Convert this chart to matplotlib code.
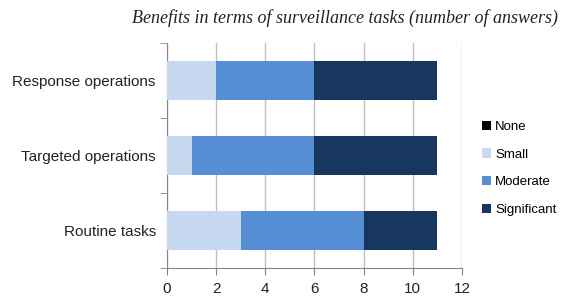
import matplotlib
matplotlib.use("Agg")
import matplotlib.pyplot as plt
import numpy as np

categories = ["Response operations", "Targeted operations", "Routine tasks"]
series_names = ["None", "Small", "Moderate", "Significant"]
none_vals = [0, 0, 0]
small_vals = [2, 1, 3]
moderate_vals = [4, 5, 5]
significant_vals = [5, 5, 3]
colors = ["#000000", "#c6d9f1", "#558ed5", "#17375e"]
xticks = [0, 2, 4, 6, 8, 10, 12]

fig = plt.figure(figsize=(5.64, 2.98), dpi=100)
ax = fig.add_axes([0.296, 0.1007, 0.523, 0.755])

y = np.arange(len(categories))[::-1]
left = np.zeros(len(categories))
for name, vals, c in zip(series_names, [none_vals, small_vals, moderate_vals, significant_vals], colors):
    vals = np.array(vals, dtype=float)
    ax.barh(y, vals, left=left, height=0.52, color=c, label=name, zorder=3)
    left += vals

ax.set_xlim(0, 12)
ax.set_ylim(-0.5, len(categories) - 0.5)
ax.set_xticks(xticks)
ax.set_xticklabels([str(t) for t in xticks])
ax.set_yticks(y)
ax.set_yticklabels(categories)
ax.tick_params(axis="y", length=0, labelsize=11, pad=8, colors="#222222")
ax.tick_params(axis="x", length=5, labelsize=11, pad=5, color="#868686", colors="#222222")
ax.set_yticks(np.arange(-0.5, len(categories), 1.0), minor=True)
ax.tick_params(axis="y", which="minor", length=5, color="#868686")
ax.grid(axis="x", color="#c0c0c0", linewidth=1, zorder=0)
for s in ["top", "right"]:
    ax.spines[s].set_visible(False)
for s in ["left", "bottom"]:
    ax.spines[s].set_color("#868686")

for lbl in ax.get_xticklabels() + ax.get_yticklabels():
    lbl.set_family("Liberation Sans")

fig.text(0.99, 0.94, "Benefits in terms of surveillance tasks (number of answers)",
         ha="right", va="center", fontsize=13, style="italic", family="Liberation Serif",
         color="#222222")

handles, labels = ax.get_legend_handles_labels()
leg = fig.legend(handles, labels, loc="center left", bbox_to_anchor=(0.838, 0.435),
                 frameon=False, handlelength=0.7, handleheight=0.7, borderpad=0.2,
                 handletextpad=0.3, labelspacing=1.18, prop={"family": "Liberation Sans", "size": 9.5})

fig.savefig("out.png", dpi=100)
